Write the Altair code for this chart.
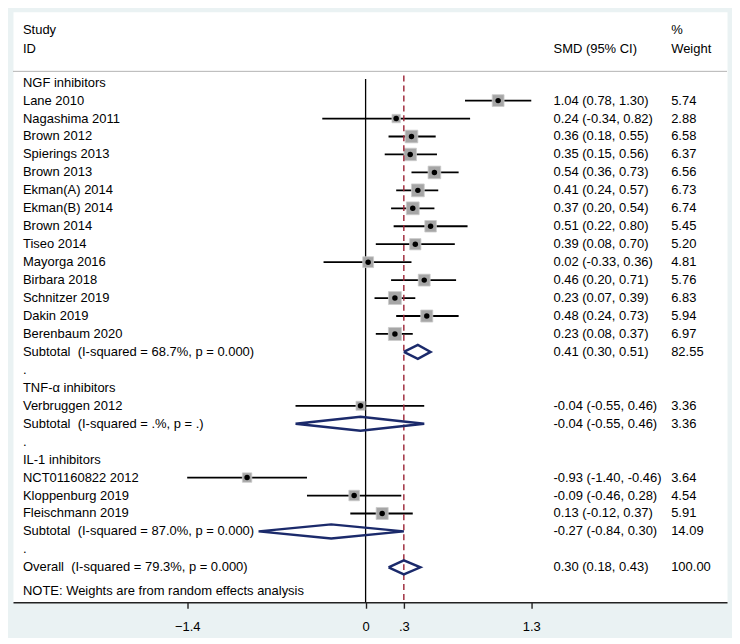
import altair as alt
import pandas as pd

# ---------------- data ----------------
labels = [
    "NGF inhibitors", "Lane 2010", "Nagashima 2011", "Brown 2012", "Spierings 2013",
    "Brown 2013", "Ekman(A) 2014", "Ekman(B) 2014", "Brown 2014", "Tiseo 2014",
    "Mayorga 2016", "Birbara 2018", "Schnitzer 2019", "Dakin 2019", "Berenbaum 2020",
    "Subtotal\u00a0\u00a0(I-squared = 68.7%, p = 0.000)", ".",
    "TNF-\u03b1 inhibitors", "Verbruggen 2012",
    "Subtotal\u00a0\u00a0(I-squared = .%, p = .)", ".",
    "IL-1 inhibitors", "NCT01160822 2012", "Kloppenburg 2019", "Fleischmann 2019",
    "Subtotal\u00a0\u00a0(I-squared = 87.0%, p = 0.000)", ".",
    "Overall\u00a0\u00a0(I-squared = 79.3%, p = 0.000)",
]
# row type: h = heading, s = study, d = diamond (subtotal/overall), b = blank dot
kinds = ["h", "s", "s", "s", "s", "s", "s", "s", "s", "s", "s", "s", "s", "s", "s",
         "d", "b", "h", "s", "d", "b", "h", "s", "s", "s", "d", "b", "d"]
est = [None, 1.04, 0.24, 0.36, 0.35, 0.54, 0.41, 0.37, 0.51, 0.39, 0.02, 0.46, 0.23, 0.48, 0.23,
       0.41, None, None, -0.04, -0.04, None, None, -0.93, -0.09, 0.13, -0.27, None, 0.30]
lo = [None, 0.78, -0.34, 0.18, 0.15, 0.36, 0.24, 0.20, 0.22, 0.08, -0.33, 0.20, 0.07, 0.24, 0.08,
      0.30, None, None, -0.55, -0.55, None, None, -1.40, -0.46, -0.12, -0.84, None, 0.18]
hi = [None, 1.30, 0.82, 0.55, 0.56, 0.73, 0.57, 0.54, 0.80, 0.70, 0.36, 0.71, 0.39, 0.73, 0.37,
      0.51, None, None, 0.46, 0.46, None, None, -0.46, 0.28, 0.37, 0.30, None, 0.43]
weight = [None, 5.74, 2.88, 6.58, 6.37, 6.56, 6.73, 6.74, 5.45, 5.20, 4.81, 5.76, 6.83, 5.94, 6.97,
          82.55, None, None, 3.36, 3.36, None, None, 3.64, 4.54, 5.91, 14.09, None, 100.00]
tick_values = [-1.4, 0, 0.3, 1.3]
note = "NOTE: Weights are from random effects analysis"

FONT = "Liberation Sans"
NAVY = "#1b2a6b"
MAROON = "#9b2335"

rows = pd.DataFrame({"label": labels, "kind": kinds, "est": est, "lo": lo, "hi": hi, "weight": weight})
rows["row"] = list(range(len(rows)))


def fmt(v):
    return f"{v:.2f}"


rows["ci_text"] = [
    f"{fmt(e)} ({fmt(l)}, {fmt(h)})" if (e is not None and not pd.isna(e)) else ""
    for e, l, h in zip(est, lo, hi)
]
rows["w_text"] = [f"{w:.2f}" if w is not None else "" for w in weight]

studies = pd.DataFrame({
    "row": [i for i, k in enumerate(kinds) if k == "s"],
    "est": [est[i] for i, k in enumerate(kinds) if k == "s"],
    "lo": [lo[i] for i, k in enumerate(kinds) if k == "s"],
    "hi": [hi[i] for i, k in enumerate(kinds) if k == "s"],
    "weight": [weight[i] for i, k in enumerate(kinds) if k == "s"],
})

# diamond outlines
dpts = []
H = 0.39
for i, k in enumerate(kinds):
    if k != "d":
        continue
    pts = [(lo[i], i), (est[i], i - H), (hi[i], i), (est[i], i + H), (lo[i], i)]
    for j, (x, y) in enumerate(pts):
        dpts.append({"id": i, "ord": j, "x": x, "y": y})
dpts = pd.DataFrame(dpts)

texts = pd.DataFrame({"label": labels, "row": rows["row"], "ci_text": rows["ci_text"],
                      "w_text": rows["w_text"]})
note_df = pd.DataFrame({"label": [note], "row": [28.3]})
hdr_a = pd.DataFrame({"txt": ["Study", "ID"], "row": [-2.95, -1.88]})
hdr_b = pd.DataFrame({"txt": ["SMD (95% CI)"], "row": [-1.88]})
hdr_c = pd.DataFrame({"txt": ["%", "Weight"], "row": [-2.95, -1.88]})

overall_est = est[-1]

XD = [-2.767, 2.836]
YD = [-3.944, 28.944]
xs = alt.Scale(domain=XD, nice=False, zero=False)
ys = alt.Scale(domain=YD, nice=False, zero=False, reverse=True)

xaxis = alt.Axis(values=tick_values, title="", grid=False,
                 labelExpr="datum.value == 0.3 ? '.3' : (datum.value == 0 ? '0' : format(datum.value, '.1f'))",
                 labelFont=FONT, labelFontSize=13, labelColor="black", labelPadding=12,
                 tickSize=6, tickColor="#222222", tickWidth=1.4, domainColor="#222222", domainWidth=1.4,
                 labelFlush=False)
yaxis = alt.Axis(title="", grid=False, labels=False, ticks=False, domain=False)


def X(f):
    return alt.X(f, scale=xs, axis=xaxis)


def Y(f):
    return alt.Y(f, scale=ys, axis=yaxis)


W, HT = 716, 592

zero_df = pd.DataFrame({"x": [0.0], "y0": [-0.2], "y1": [YD[1]]})
zero_rule = alt.Chart(zero_df).mark_rule(color="black", strokeWidth=1.3).encode(
    x=X("x:Q"), y=Y("y0:Q"), y2="y1:Q")

ov_df = pd.DataFrame({"x": [overall_est], "y0": [-0.4], "y1": [YD[1]]})
ov_rule = alt.Chart(ov_df).mark_rule(color=MAROON, strokeWidth=1.4, strokeDash=[6, 4]).encode(
    x=X("x:Q"), y=Y("y0:Q"), y2="y1:Q")

sep_df = pd.DataFrame({"x0": [XD[0]], "x1": [XD[1]], "y": [-0.63]})
sep = alt.Chart(sep_df).mark_rule(color="#b4b4b4", strokeWidth=1).encode(
    x=X("x0:Q"), x2="x1:Q", y=Y("y:Q"))

ci = alt.Chart(studies).mark_rule(color="black", strokeWidth=1.8).encode(
    x=X("lo:Q"), x2="hi:Q", y=Y("row:Q"))

boxes = alt.Chart(studies).mark_square(color="#a6a6a6", opacity=1, stroke="#cccccc", strokeWidth=0.8).encode(
    x=X("est:Q"), y=Y("row:Q"),
    size=alt.Size("weight:Q", scale=alt.Scale(domain=[0, 10], range=[0, 245]), legend=None))

dots = alt.Chart(studies).mark_circle(color="black", size=30, opacity=1).encode(
    x=X("est:Q"), y=Y("row:Q"))

diamonds = alt.Chart(dpts).mark_line(color=NAVY, strokeWidth=2.4, strokeJoin="miter").encode(
    x=X("x:Q"), y=Y("y:Q"), detail="id:N", order="ord:Q")

tbase = dict(font=FONT, fontSize=13, color="black", align="left", baseline="middle")
lab = alt.Chart(texts).mark_text(**tbase).encode(x=alt.value(10), y=Y("row:Q"), text="label:N")
cit = alt.Chart(texts).mark_text(**tbase).encode(x=alt.value(542), y=Y("row:Q"), text="ci_text:N")
wt = alt.Chart(texts).mark_text(**tbase).encode(x=alt.value(660), y=Y("row:Q"), text="w_text:N")
nt = alt.Chart(note_df).mark_text(**tbase).encode(x=alt.value(10), y=Y("row:Q"), text="label:N")
ha = alt.Chart(hdr_a).mark_text(**tbase).encode(x=alt.value(10), y=Y("row:Q"), text="txt:N")
hb = alt.Chart(hdr_b).mark_text(**tbase).encode(x=alt.value(542), y=Y("row:Q"), text="txt:N")
hc = alt.Chart(hdr_c).mark_text(**tbase).encode(x=alt.value(660), y=Y("row:Q"), text="txt:N")

chart = alt.layer(
    sep, zero_rule, ci, boxes, dots, ov_rule, diamonds,
    lab, cit, wt, nt, ha, hb, hc,
).properties(
    width=W, height=HT, background="#EAF2F3",
    padding={"left": 4, "top": 3, "right": 4, "bottom": 4},
).configure_view(fill="white", stroke="transparent")

chart.save("out.html", embed_options={"renderer": "svg", "actions": False})
